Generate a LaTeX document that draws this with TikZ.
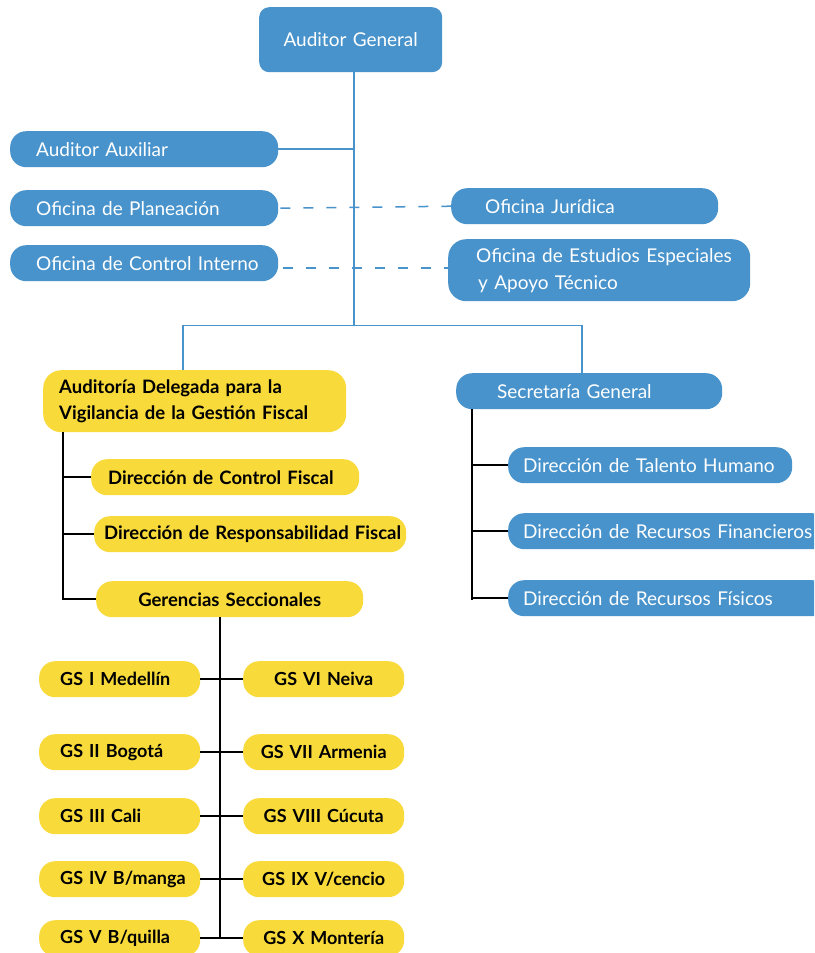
\documentclass[tikz,border=0pt]{standalone}
\usepackage{fontspec}
\setmainfont{Lato}
\usepackage{xcolor}
\usetikzlibrary{positioning, calc}
\definecolor{orgblue}{HTML}{4893CB}
\definecolor{orgyellow}{HTML}{F8DA3A}

\tikzset{
  orgbox/.style={rounded corners=16pt, anchor=north west, inner ysep=0pt,
    minimum height=36pt, align=left, font=\fontsize{19}{27}\selectfont},
  bluebox/.style={orgbox, fill=orgblue, text=white},
  yellowbox/.style={orgbox, fill=orgyellow, text=black,
    font=\fontsize{18.5}{26}\selectfont\bfseries},
  gsbox/.style={yellowbox, inner xsep=0pt, text width=161pt,
    font=\fontsize{18}{22}\selectfont\bfseries},
  blueline/.style={draw=orgblue, line width=1.5pt},
  bluedash/.style={blueline, dash pattern=on 10pt off 13pt},
  blackline/.style={draw=black, line width=2pt}
}

\begin{document}
\begin{tikzpicture}[x=1pt, y=-1pt]
  \clip (0,0) rectangle (814,953);

  % top level
  \node[bluebox, rounded corners=10pt, minimum height=65pt, inner xsep=0pt,
        text width=183pt, align=center] (gen) at (259,7) {Auditor General};
  \node[bluebox, inner xsep=0pt, text width=268pt] (aux) at (10,131) {\hspace*{26pt}Auditor Auxiliar};
  \node[bluebox, inner xsep=0pt, text width=268pt] (plan) at (10,190) {\hspace*{26pt}Oficina de Planeación};
  \node[bluebox, inner xsep=0pt, text width=268pt] (ctrl) at (10,245) {\hspace*{26pt}Oficina de Control Interno};
  \node[bluebox, inner xsep=0pt, text width=267pt] (jur) at (451,188) {\hspace*{34pt}Oficina Jurídica};
  \node[bluebox, rounded corners=18pt, minimum height=62pt, inner xsep=0pt,
        text width=302pt] (estu) at (448,239)
        {\hspace*{28pt}Oficina de Estudios Especiales\\\hspace*{30pt}y Apoyo Técnico};

  % second level
  \node[yellowbox, rounded corners=18pt, minimum height=62pt, inner xsep=0pt,
        text width=303pt] (deleg) at (43,370)
        {\hspace*{16pt}Auditoría Delegada para la\\\hspace*{16pt}Vigilancia de la Gestión Fiscal};
  \node[bluebox, inner xsep=0pt, text width=266pt] (secr) at (456,373) {\hspace*{41pt}Secretaría General};

  \node[yellowbox, inner xsep=0pt, text width=268pt] (dcf) at (91,459) {\hspace*{17pt}Dirección de Control Fiscal};
  \node[yellowbox, inner xsep=0pt, text width=312pt] (drf) at (94,516) {\hspace*{10pt}Dirección de Responsabilidad Fiscal};
  \node[yellowbox, inner xsep=0pt, text width=267pt, align=center] (gers) at (96,581) {Gerencias Seccionales};

  \node[bluebox, inner xsep=0pt, text width=284pt] (dth) at (508,447) {\hspace*{15pt}Dirección de Talento Humano};
  \node[bluebox, inner xsep=0pt, text width=320pt] (drfin) at (508,513) {\hspace*{15pt}Dirección de Recursos Financieros};
  \node[bluebox, inner xsep=0pt, text width=320pt] (drfis) at (508,580) {\hspace*{15pt}Dirección de Recursos Físicos};

  % gerencias seccionales
  \node[gsbox] (gs1) at (39,661) {\hspace*{21pt}GS I Medellín};
  \node[gsbox] (gs2) at (39,734) {\hspace*{21pt}GS II Bogotá};
  \node[gsbox] (gs3) at (39,798) {\hspace*{21pt}GS III Cali};
  \node[gsbox] (gs4) at (39,861) {\hspace*{21pt}GS IV B/manga};
  \node[gsbox] (gs5) at (39,920) {\hspace*{21pt}GS V B/quilla};
  \node[gsbox, align=center] (gs6) at (243,661) {GS VI Neiva};
  \node[gsbox, align=center] (gs7) at (243,734) {GS VII Armenia};
  \node[gsbox, align=center] (gs8) at (243,798) {GS VIII Cúcuta};
  \node[gsbox, align=center] (gs9) at (243,861) {GS IX V/cencio};
  \node[gsbox, align=center] (gs10) at (243,920) {GS X Montería};

  % blue connectors
  \coordinate (split) at ($(gen.south)+(3.5,253)$);
  \draw[blueline] ([xshift=3.5pt]gen.south) -- (split);
  \draw[blueline] (aux.east) -- (aux.east -| split);
  \draw[bluedash] ([xshift=2pt]plan.east) -- (jur.west);
  \draw[bluedash] ([xshift=5pt,yshift=-5pt]ctrl.east) -- ([yshift=-5pt]ctrl.east -| estu.west);
  \draw[blueline] ([xshift=-11.5pt]deleg.north) |- (split) -| ([xshift=-7pt]secr.north);

  % black connectors
  \coordinate (lspine) at ([xshift=20pt]deleg.south west);
  \draw[blackline] (lspine) |- (gers.west);
  \draw[blackline] (lspine |- dcf.west) -- (dcf.west);
  \draw[blackline] (lspine |- drf.west) -- (drf.west);

  \coordinate (rspine) at ([xshift=16pt]secr.south west);
  \draw[blackline] (rspine) -- ($(rspine |- drfis.west)+(0,2)$);
  \draw[blackline] (rspine |- dth.west) -- (dth.west);
  \draw[blackline] (rspine |- drfin.west) -- (drfin.west);
  \draw[blackline] (rspine |- drfis.west) -- (drfis.west);

  \coordinate (gtrunk) at ([xshift=-9.5pt]gers.south);
  \draw[blackline] (gtrunk) -- (gtrunk |- 0,939);
  \draw[blackline] (gs1.east) -- (gs6.west);
  \draw[blackline] (gs2.east) -- (gs7.west);
  \draw[blackline] (gs3.east) -- (gs8.west);
  \draw[blackline] (gs4.east) -- (gs9.west);
  \draw[blackline] (gs5.east |- 0,938) -- (gs10.west |- 0,938);
\end{tikzpicture}
\end{document}
